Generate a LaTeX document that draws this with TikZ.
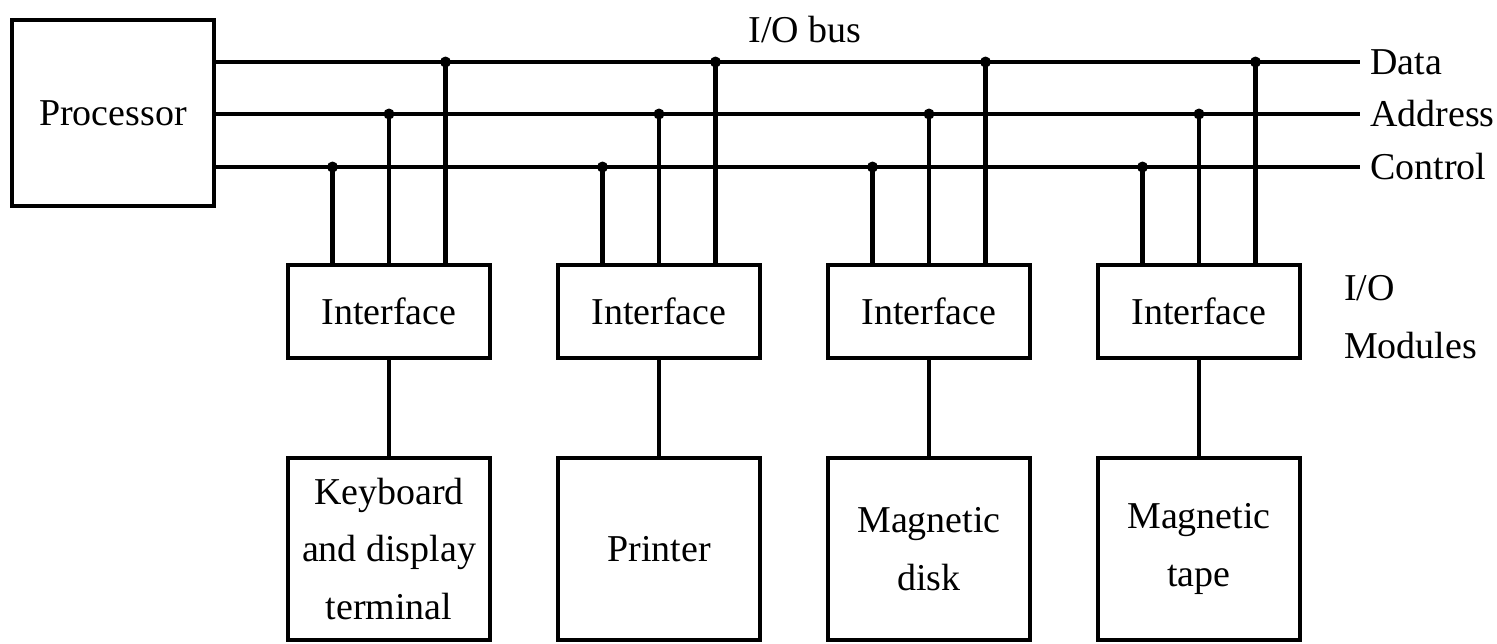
\documentclass[tikz,border=0pt]{standalone}
\usepackage{fontspec}
\setmainfont{Liberation Serif}
\usetikzlibrary{positioning}

\begin{document}
\begin{tikzpicture}[line width=1.3pt,node distance=2.7cm,on grid,
        font=\fontsize{10.8}{16.5}\selectfont]
        \tikzstyle{box}=[draw, fill=white, minimum width=2.02cm, inner sep=0pt, align=center]
        \tikzstyle{tap}=[fill, circle, inner sep=0pt, minimum size=0.11cm]
        \tikzstyle{busname}=[anchor=west, inner sep=0.08cm]
        \useasboundingbox (0,0) rectangle (14.97,-6.43);

        \node[box, minimum height=1.86cm] (proc) at (1.13,-1.13) {Processor};

        \node[box, minimum height=0.93cm] (if1) at (3.89,-3.115) {Interface};
        \node[box, minimum height=0.93cm] (if2) [right of=if1]   {Interface};
        \node[box, minimum height=0.93cm] (if3) [right of=if2]   {Interface};
        \node[box, minimum height=0.93cm] (if4) [right of=if3]   {Interface};

        \node[box, minimum height=1.82cm, node distance=2.375cm] (dev1) [below of=if1] {Keyboard\\and display\\terminal};
        \node[box, minimum height=1.82cm, node distance=2.375cm] (dev2) [below of=if2] {Printer};
        \node[box, minimum height=1.82cm, node distance=2.375cm] (dev3) [below of=if3] {Magnetic\\disk};
        \node[box, minimum height=1.82cm, node distance=2.375cm] (dev4) [below of=if4] {Magnetic\\tape};

        % bus lines
        \coordinate (dataE) at (13.6,-0.62);
        \coordinate (addrE) at (13.6,-1.14);
        \coordinate (ctrlE) at (13.6,-1.67);
        \draw (proc.east |- dataE) -- (dataE);
        \draw (proc.east |- addrE) -- (addrE);
        \draw (proc.east |- ctrlE) -- (ctrlE);

        \node[busname] (dataL) at (dataE) {Data};
        \node[busname] (addrL) at (addrE) {Address};
        \node[busname] (ctrlL) at (ctrlE) {Control};
        \node (bus) at (8.05,-0.30) {I/O bus};
        \node[anchor=west, align=left] (mods) at (13.3,-3.17) {I/O\\Modules};

        \foreach \i in {1,...,4} {
            \draw ([xshift=-0.565cm]if\i.north) -- ([xshift=-0.565cm]if\i.north |- ctrlE) node[tap] (c\i) {};
            \draw (if\i.north) -- (if\i.north |- addrE) node[tap] (a\i) {};
            \draw ([xshift=0.565cm]if\i.north) -- ([xshift=0.565cm]if\i.north |- dataE) node[tap] (d\i) {};
            \draw (if\i) -- (dev\i);
        }
\end{tikzpicture}
\end{document}
